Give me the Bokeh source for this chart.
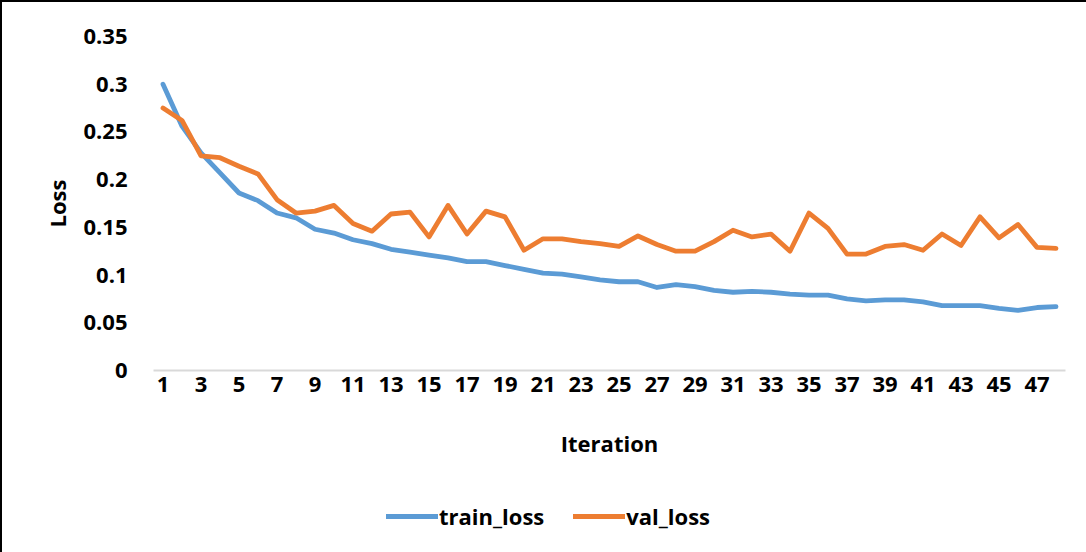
from bokeh.plotting import figure
from bokeh.models import FixedTicker, Legend, LegendItem, Range1d
from bokeh.layouts import column
from bokeh.embed import file_html
from bokeh.resources import INLINE

iterations = list(range(1, 49))
train_loss = [0.300, 0.256, 0.228, 0.207, 0.186, 0.178, 0.165, 0.160, 0.148, 0.144,
              0.137, 0.133, 0.127, 0.124, 0.121, 0.118, 0.114, 0.114, 0.110, 0.106,
              0.102, 0.101, 0.098, 0.095, 0.093, 0.093, 0.087, 0.090, 0.088, 0.084,
              0.082, 0.083, 0.082, 0.080, 0.079, 0.079, 0.075, 0.073, 0.074, 0.074,
              0.072, 0.068, 0.068, 0.068, 0.065, 0.063, 0.066, 0.067]
val_loss = [0.275, 0.262, 0.225, 0.223, 0.214, 0.206, 0.179, 0.165, 0.167, 0.173,
            0.154, 0.146, 0.164, 0.166, 0.140, 0.173, 0.143, 0.167, 0.161, 0.126,
            0.138, 0.138, 0.135, 0.133, 0.130, 0.141, 0.132, 0.125, 0.125, 0.135,
            0.147, 0.140, 0.143, 0.125, 0.165, 0.149, 0.122, 0.122, 0.130, 0.132,
            0.126, 0.143, 0.131, 0.161, 0.139, 0.153, 0.129, 0.128]
x_ticks = list(range(1, 48, 2))
y_ticks = [0, 0.05, 0.1, 0.15, 0.2, 0.25, 0.3, 0.35]
y_labels = {0: "0", 0.05: "0.05", 0.1: "0.1", 0.15: "0.15", 0.2: "0.2",
            0.25: "0.25", 0.3: "0.3", 0.35: "0.35"}
series_names = ["train_loss", "val_loss"]
series_values = [train_loss, val_loss]
series_colors = ["#5B9BD5", "#ED7D31"]

FONT = "Open Sans"
FS = "22px"

p = figure(frame_width=910, frame_height=332, output_backend="svg", toolbar_location=None,
           x_range=Range1d(0.5, 48.5), y_range=Range1d(0, 0.35),
           min_border_left=151, min_border_right=23, min_border_top=34, min_border_bottom=104)
p.styles = {"border-left": "2px solid black", "border-top": "2px solid black"}
p.outline_line_color = None
p.xgrid.visible = False
p.ygrid.visible = False

for vals, col in zip(series_values, series_colors):
    p.line(iterations, vals, line_color=col, line_width=4.8, line_join="round", line_cap="round")

xa = p.xaxis[0]
xa.ticker = FixedTicker(ticks=x_ticks)
xa.axis_line_color = "#D9D9D9"
xa.axis_line_width = 2
xa.major_tick_line_color = None
xa.minor_tick_line_color = None
xa.major_label_standoff = 0
xa.major_label_text_font = FONT
xa.major_label_text_font_style = "bold"
xa.major_label_text_font_size = FS
xa.major_label_text_color = "black"
xa.axis_label = "Iteration"
xa.axis_label_text_font = FONT
xa.axis_label_text_font_style = "bold"
xa.axis_label_text_font_size = FS
xa.axis_label_text_color = "black"
xa.axis_label_standoff = 33

ya = p.yaxis[0]
ya.ticker = FixedTicker(ticks=y_ticks)
ya.major_label_overrides = y_labels
ya.axis_line_color = None
ya.major_tick_line_color = None
ya.minor_tick_line_color = None
ya.major_label_standoff = 20
ya.major_label_text_font = FONT
ya.major_label_text_font_style = "bold"
ya.major_label_text_font_size = FS
ya.major_label_text_color = "black"
ya.axis_label = "Loss"
ya.axis_label_text_font = FONT
ya.axis_label_text_font_style = "bold"
ya.axis_label_text_font_size = FS
ya.axis_label_text_color = "black"
ya.axis_label_standoff = 8

# legend strip below the chart (series drawn outside its visible range)
q = figure(width=1084, height=80, output_backend="svg", toolbar_location=None,
           x_range=Range1d(100, 101), y_range=Range1d(0, 1),
           x_axis_location=None, y_axis_location=None,
           min_border_left=0, min_border_right=0, min_border_top=0, min_border_bottom=0)
q.styles = {"border-left": "2px solid black"}
q.outline_line_color = None
q.xgrid.visible = False
q.ygrid.visible = False
items = []
for name, vals, col in zip(series_names, series_values, series_colors):
    r = q.line(iterations, vals, line_color=col, line_width=5, line_cap="round")
    items.append(LegendItem(label=name, renderers=[r]))

legend = Legend(items=items, orientation="horizontal", location=(233, 21),
                label_text_font=FONT, label_text_font_style="bold",
                label_text_font_size=FS, label_text_color="black",
                glyph_width=52, label_standoff=1, spacing=29,
                border_line_color=None, background_fill_alpha=0, padding=5, margin=0)
q.add_layout(legend, "center")

layout = column(p, q, spacing=0)
open("out.html", "w").write(file_html(layout, INLINE))
